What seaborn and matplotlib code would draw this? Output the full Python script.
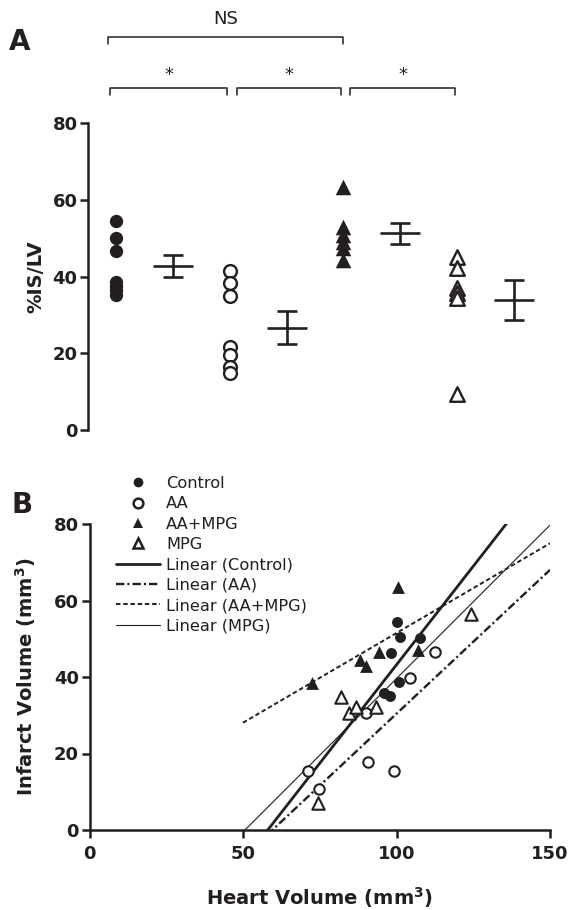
import numpy as np
import pandas as pd
import seaborn as sns
import matplotlib.pyplot as plt
from matplotlib.lines import Line2D

# Panel A: %IS/LV for each group
groups = ["Control", "AA", "AA+MPG", "MPG"]
isl_control = [54.5, 50.1, 46.7, 38.5, 37.5, 36.5, 35.2]
isl_aa = [41.5, 38.3, 34.8, 21.5, 19.5, 16.5, 14.8]
isl_aampg = [63.4, 52.8, 50.8, 49.0, 47.3, 44.3]
isl_mpg = [45.1, 42.1, 36.9, 35.6, 34.3, 9.5]

# Panel B: heart volume vs infarct volume (mm3)
hv_control = [100.0, 101.2, 107.6, 98.2, 100.8, 95.8, 97.9]
iv_control = [54.5, 50.4, 50.1, 46.2, 38.6, 35.9, 35.1]
hv_aa = [112.6, 104.4, 90.0, 90.8, 99.3, 71.2, 74.9]
iv_aa = [46.5, 39.7, 30.7, 17.7, 15.5, 15.4, 10.7]
hv_aampg = [100.5, 72.6, 88.2, 90.2, 94.4, 107.0]
iv_aampg = [63.5, 38.4, 44.4, 43.0, 46.6, 47.1]
hv_mpg = [124.4, 82.0, 84.6, 86.7, 93.4, 74.4]
iv_mpg = [56.6, 34.9, 30.5, 32.1, 32.2, 7.0]

# linear trend lines
trend_slope = [1.03, 0.752, 0.469, 0.802]
trend_intercept = [-59.8, -44.8, 4.6, -40.6]
trend_x = [50, 150]

# significance brackets (group index from, to, label)
sig_pairs = [(0, 2, "*"), (2, 4, "*"), (4, 6, "*")]
ns_pair = (0, 4, "NS")

ink = "#231f20"
markers = ["o", "o", "^", "^"]
filled = [True, False, True, False]
line_styles = ["-", (0, (6, 2.2, 1.5, 2.2)), (0, (3.2, 2)), "-"]
line_widths = [2.0, 1.7, 1.4, 0.8]

sns.set_style("ticks")
plt.rcParams["font.family"] = ["DejaVu Sans"]
plt.rcParams["font.weight"] = "bold"
plt.rcParams["lines.scale_dashes"] = False

fig = plt.figure(figsize=(5.68, 9.10), dpi=100)
axA = fig.add_axes([88 / 568, 1 - 430 / 910, 462 / 568, 307 / 910])
axB = fig.add_axes([89.5 / 568, 1 - 830 / 910, 460.5 / 568, 306 / 910])

# ---------- Panel A ----------
isl = [isl_control, isl_aa, isl_aampg, isl_mpg]
dfA = pd.DataFrame({
    "group": np.repeat(groups, [len(v) for v in isl]),
    "value": np.concatenate(isl),
})
dfA["pos"] = dfA["group"].map({g: 2 * i for i, g in enumerate(groups)})

sizesA = [92, 85, 125, 110]
for i, g in enumerate(groups):
    sub = dfA[dfA["group"] == g]
    sns.scatterplot(data=sub, x="pos", y="value", ax=axA, marker=markers[i],
                    s=sizesA[i], color=ink,
                    facecolor=ink if filled[i] else "white",
                    edgecolor=ink, linewidth=0 if filled[i] else 1.7,
                    zorder=3, legend=False)
    mean = sub["value"].mean()
    sem = sub["value"].std(ddof=1) / np.sqrt(len(sub))
    axA.errorbar(2 * i + 1, mean, yerr=sem, fmt="_", markersize=29,
                 mew=1.9, capsize=7.2, capthick=1.9, elinewidth=1.9,
                 color=ink)

axA.set_xlim(-0.49, 7.63)
axA.set_ylim(0, 80)
axA.set_yticks([0, 20, 40, 60, 80])
axA.set_xticks([])
axA.set_xlabel("")
axA.set_ylabel("%IS/LV", fontsize=14, fontweight="bold", color=ink)
axA.yaxis.set_label_coords(-0.092, 0.5)
sns.despine(ax=axA, bottom=True)
axA.spines["left"].set_linewidth(1.8)
axA.spines["left"].set_color(ink)
axA.tick_params(axis="y", length=6, width=1.8, labelsize=13, pad=1.5,
                colors=ink)

# brackets above the plot
def bracket(ax, x0, x1, y_top, drop, label, ty):
    ax.plot([x0, x0, x1, x1], [y_top - drop, y_top, y_top, y_top - drop],
            color=ink, lw=1.1, clip_on=False)
    ax.text((x0 + x1) / 2, ty, label, ha="center", va="center",
            fontsize=13, fontweight="normal", color=ink, clip_on=False)

for a, b, lab in sig_pairs:
    bracket(axA, a - 0.1 if a == 0 else a + 0.12, b - 0.04, 89.2, 1.9, lab, 92.6)
bracket(axA, ns_pair[0] - 0.13, ns_pair[1], 102.5, 1.9, ns_pair[2], 107.2)

fig.text(9 / 568, 1 - 50 / 910, "A", fontsize=20, fontweight="bold",
         color=ink, ha="left", va="baseline")

# ---------- Panel B ----------
hv = [hv_control, hv_aa, hv_aampg, hv_mpg]
iv = [iv_control, iv_aa, iv_aampg, iv_mpg]
dfB = pd.DataFrame({
    "group": np.repeat(groups, [len(v) for v in hv]),
    "heart": np.concatenate(hv),
    "infarct": np.concatenate(iv),
})

for i, g in enumerate(groups):
    tx = np.array(trend_x, dtype=float)
    ty = trend_slope[i] * tx + trend_intercept[i]
    axB.plot(tx, ty, color=ink, lw=line_widths[i], ls=line_styles[i],
             zorder=2)

sizesB = [62, 56, 85, 80]
for i, g in enumerate(groups):
    sub = dfB[dfB["group"] == g]
    sns.scatterplot(data=sub, x="heart", y="infarct", ax=axB,
                    marker=markers[i], s=sizesB[i], color=ink,
                    facecolor=ink if filled[i] else "white",
                    edgecolor=ink, linewidth=0 if filled[i] else 1.5,
                    zorder=3, legend=False)

axB.set_xlim(0, 150)
axB.set_ylim(0, 80)
axB.set_xticks([0, 50, 100, 150])
axB.set_yticks([0, 20, 40, 60, 80])
axB.set_xlabel("Heart Volume (mm$^\\mathbf{3}$)", fontsize=14,
               fontweight="bold", color=ink)
axB.set_ylabel("Infarct Volume (mm$^\\mathbf{3}$)", fontsize=14,
               fontweight="bold", color=ink)
axB.xaxis.set_label_coords(0.5, -0.18)
axB.yaxis.set_label_coords(-0.112, 0.5)
sns.despine(ax=axB)
for sp in ["left", "bottom"]:
    axB.spines[sp].set_linewidth(1.8)
    axB.spines[sp].set_color(ink)
axB.tick_params(axis="both", length=6, width=1.8, labelsize=13, colors=ink)
axB.tick_params(axis="y", pad=1.5)
axB.tick_params(axis="x", pad=5)

handles = []
for i, g in enumerate(groups):
    handles.append(Line2D([], [], ls="none", marker=markers[i],
                          markersize=7.0 if markers[i] == "o" else 7.6,
                          markerfacecolor=ink if filled[i] else "white",
                          markeredgecolor=ink,
                          markeredgewidth=0 if filled[i] else 1.8))
for i, g in enumerate(groups):
    handles.append(Line2D([], [], color=ink, lw=line_widths[i],
                          ls=line_styles[i]))
labels = groups + ["Linear (%s)" % g for g in groups]
fig.legend(handles, labels, loc="upper left",
           bbox_to_anchor=(116 / 568, 1 - 476 / 910),
           frameon=False, borderpad=0, borderaxespad=0,
           handlelength=2.71, handletextpad=0.37, labelspacing=0.33,
           prop={"size": 11.7, "weight": "normal"}, labelcolor=ink)

fig.text(12 / 568, 1 - 512.7 / 910, "B", fontsize=20, fontweight="bold",
         color=ink, ha="left", va="baseline")

plt.savefig("out.png", dpi=100)
